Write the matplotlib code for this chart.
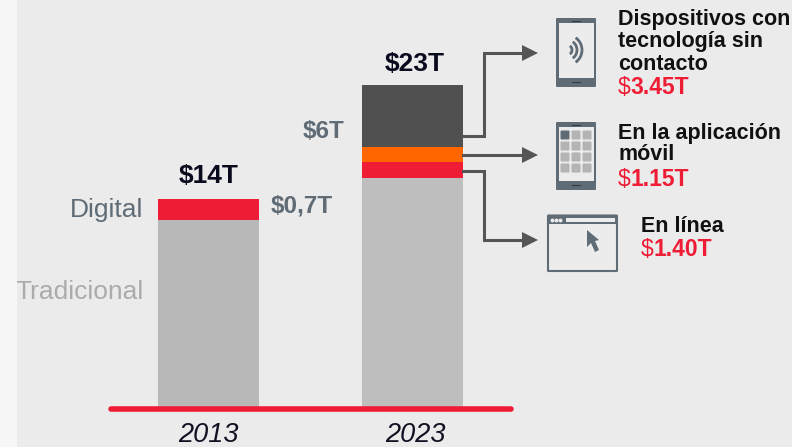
import matplotlib
matplotlib.use('Agg')
import matplotlib.pyplot as plt
from matplotlib.patches import Rectangle, FancyBboxPatch, Polygon, Arc

plt.rcParams['font.family'] = ['Liberation Sans', 'DejaVu Sans']

years = ['2013', '2023']
totals = ['$14T', '$23T']
# bar heights as drawn (the picture is not to scale), roughly in T
traditional = [13.36, 16.36]
digital_2013 = [1.5, 0]
online = [0, 1.14]
app = [0, 1.07]
contactless = [0, 4.43]

RED = '#ee1c34'
ORANGE = '#ff6600'
DARK = '#505050'
SLATE = '#5f6b75'
ARROW = '#555555'

fig = plt.figure(figsize=(7.92, 4.47), dpi=100)
fig.patch.set_facecolor('#ebebeb')
fig.patches.append(Rectangle((0, 0), 17 / 792, 1, transform=fig.transFigure, color='#f7f7f7', lw=0))

# bars axes, baseline at y=407px
ax = fig.add_axes([0, 40 / 447, 1, 407 / 447])
ax.set_xlim(-208.5 / 204, (792 - 208.5) / 204)
ax.set_ylim(0, 407 / 14)
ax.axis('off')
x = [0, 1]
w = 101 / 204
ax.bar(x[0], traditional[0], w, color='#b8b8b8')
ax.bar(x[1], traditional[1], w, color='#bebebe')
ax.bar(x[0], digital_2013[0], w, bottom=traditional[0], color=RED)
ax.bar(x[1], online[1], w, bottom=traditional[1], color=RED)
ax.bar(x[1], app[1], w, bottom=traditional[1] + online[1], color=ORANGE)
ax.bar(x[1], contactless[1], w, bottom=traditional[1] + online[1] + app[1], color=DARK)

# everything else in pixel coordinates
ov = fig.add_axes([0, 0, 1, 1])
ov.set_xlim(0, 792)
ov.set_ylim(447, 0)
ov.axis('off')
ov.patch.set_alpha(0)

ov.plot([111, 511], [409, 409], color=RED, lw=4, solid_capstyle='round')

ov.text(208, 434.5, years[0], ha='center', va='center', fontsize=19.5, style='italic', color='#111122')
ov.text(415.5, 434.5, years[1], ha='center', va='center', fontsize=19.5, style='italic', color='#111122')
ov.text(208.5, 176, totals[0], ha='center', va='center', fontsize=19, weight='bold', color='#0a0a1e')
ov.text(415, 64, totals[1], ha='center', va='center', fontsize=19, weight='bold', color='#0a0a1e')
ov.text(143.5, 210, 'Digital', ha='right', va='center', fontsize=19, color=SLATE)
ov.text(143.5, 292, 'Tradicional', ha='right', va='center', fontsize=19, color='#ababab')
ov.text(271, 206, '$0,7T', ha='left', va='center', fontsize=17.5, weight='bold', color=SLATE)
ov.text(303, 132, '$6T', ha='left', va='center', fontsize=17.5, weight='bold', color=SLATE)

# connector arrows
for path in ([(463, 136), (484, 136), (484, 53), (522, 53)],
             [(463, 155), (522, 155)],
             [(463, 171), (484, 171), (484, 240), (522, 240)]):
    ov.plot(*zip(*path), color=ARROW, lw=2.2, solid_joinstyle='miter')
    y = path[-1][1]
    ov.add_patch(Polygon([(522, y - 8), (538, y), (522, y + 8)], color=ARROW, lw=0))

# right side labels
def label(x0, y0, lines, amount):
    for i, t in enumerate(lines):
        ov.text(x0, y0 + i * 22, t, ha='left', va='center', fontsize=15.5, weight='bold', color='#111111')
    y1 = y0 + len(lines) * 22 + 2
    ov.text(x0, y1, '$', ha='left', va='center', fontsize=16.5, color=RED)
    ov.text(x0 + 12.5, y1, amount, ha='left', va='center', fontsize=16.5, weight='bold', color=RED)

label(618, 20, ['Dispositivos con', 'tecnología sin', 'contacto'], '3.45T')
label(618, 133, ['En la aplicación', 'móvil'], '1.15T')
label(641, 226, ['En línea'], '1.40T')

# phone icons
def phone(x0, y0, x1, y1):
    ov.add_patch(FancyBboxPatch((x0 + 1, y0 + 1), x1 - x0 - 2, y1 - y0 - 2, boxstyle='round,pad=1', color=SLATE, lw=0))
    ov.add_patch(Rectangle((x0 + 2.5, y0 + 5), x1 - x0 - 5, y1 - y0 - 14.5, color='#ececec', lw=0))
    cx = (x0 + x1) / 2
    ov.plot([cx - 4, cx + 4], [y0 + 3, y0 + 3], color='#333a40', lw=0.8)
    ov.plot([cx - 4, cx + 4], [y1 - 5, y1 - 5], color='#333a40', lw=0.8)

phone(556, 18, 596, 87)
for r in (5, 10, 15):
    ov.add_patch(Arc((567, 50), r * 2, r * 2, theta1=-55, theta2=55, color=SLATE, lw=2))

phone(556, 122, 596, 190)
for row in range(4):
    for col in range(3):
        c = SLATE if (row == 0 and col == 0) else '#b4b4b4'
        ov.add_patch(FancyBboxPatch((561.5 + col * 11, 131.5 + row * 11), 7, 7, boxstyle='round,pad=1', color=c, lw=0))

# browser icon
ov.add_patch(FancyBboxPatch((548.5, 216), 68, 54.5, boxstyle='round,pad=0.5', fc='#ececec', ec=SLATE, lw=1.5))
ov.add_patch(Rectangle((548.5, 216), 68, 7.5, color=SLATE, lw=0))
for dx in (552, 556, 560):
    ov.plot(dx, 219.8, 'o', ms=1.8, color='#ececec')
ov.add_patch(Rectangle((566, 218), 49, 3.5, color='#ececec', lw=0))
ov.add_patch(Polygon([(587, 230), (587, 247), (591, 243), (595, 252), (599, 250), (595, 241), (599, 240)], color=SLATE, lw=0))

fig.savefig('out.png', dpi=100, facecolor=fig.get_facecolor())
